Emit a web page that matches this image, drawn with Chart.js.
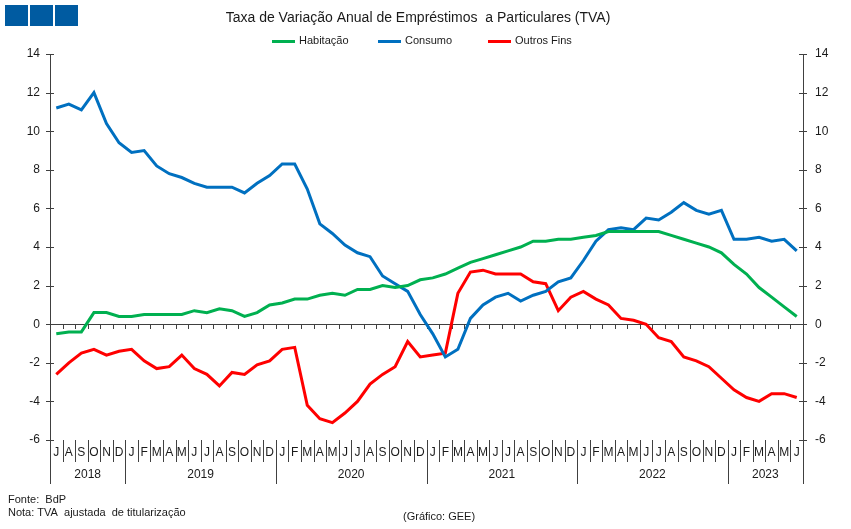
<!DOCTYPE html>
<html>
<head>
<meta charset="utf-8">
<script src="https://cdn.jsdelivr.net/npm/chart.js@4.4.0/dist/chart.umd.min.js"></script>
<style>
  html, body { margin: 0; padding: 0; background: #fff; }
</style>
</head>
<body>
<canvas id="canvas" width="851" height="529"></canvas>
<script>
// meses de Jul 2018 a Jun 2023
var meses = [
    "J","A","S","O","N","D",
    "J","F","M","A","M","J","J","A","S","O","N","D",
    "J","F","M","A","M","J","J","A","S","O","N","D",
    "J","F","M","A","M","J","J","A","S","O","N","D",
    "J","F","M","A","M","J","J","A","S","O","N","D",
    "J","F","M","A","M","J"
];
var anos = ["2018", "2019", "2020", "2021", "2022", "2023"];
var mesesPorAno = [6, 12, 12, 12, 12, 6];

var habitacao = [
    -0.5, -0.4, -0.4, 0.6, 0.6, 0.4,
    0.4, 0.5, 0.5, 0.5, 0.5, 0.7, 0.6, 0.8, 0.7, 0.4, 0.6, 1.0,
    1.1, 1.3, 1.3, 1.5, 1.6, 1.5, 1.8, 1.8, 2.0, 1.9, 2.0, 2.3,
    2.4, 2.6, 2.9, 3.2, 3.4, 3.6, 3.8, 4.0, 4.3, 4.3, 4.4, 4.4,
    4.5, 4.6, 4.8, 4.8, 4.8, 4.8, 4.8, 4.6, 4.4, 4.2, 4.0, 3.7,
    3.1, 2.6, 1.9, 1.4, 0.9, 0.4
];
var consumo = [
    11.2, 11.4, 11.1, 12.0, 10.4, 9.4,
    8.9, 9.0, 8.2, 7.8, 7.6, 7.3, 7.1, 7.1, 7.1, 6.8, 7.3, 7.7,
    8.3, 8.3, 7.0, 5.2, 4.7, 4.1, 3.7, 3.5, 2.5, 2.1, 1.7, 0.5,
    -0.5, -1.7, -1.3, 0.3, 1.0, 1.4, 1.6, 1.2, 1.5, 1.7, 2.2, 2.4,
    3.3, 4.3, 4.9, 5.0, 4.9, 5.5, 5.4, 5.8, 6.3, 5.9, 5.7, 5.9,
    4.4, 4.4, 4.5, 4.3, 4.4, 3.8
];
var outrosFins = [
    -2.6, -2.0, -1.5, -1.3, -1.6, -1.4,
    -1.3, -1.9, -2.3, -2.2, -1.6, -2.3, -2.6, -3.2, -2.5, -2.6, -2.1, -1.9,
    -1.3, -1.2, -4.2, -4.9, -5.1, -4.6, -4.0, -3.1, -2.6, -2.2, -0.9, -1.7,
    -1.6, -1.5, 1.6, 2.7, 2.8, 2.6, 2.6, 2.6, 2.2, 2.1, 0.7, 1.4,
    1.7, 1.3, 1.0, 0.3, 0.2, 0.0, -0.7, -0.9, -1.7, -1.9, -2.2, -2.8,
    -3.4, -3.8, -4.0, -3.6, -3.6, -3.8
];
var ticksY = [-6, -4, -2, 0, 2, 4, 6, 8, 10, 12, 14];

var cores = {
    verde: '#00b050',
    azul: '#0070c0',
    vermelho: '#ff0000',
    texto: '#1a1a1a',
    eixo: '#404040'
};
var fonte = '"Liberation Sans", Arial, sans-serif';

// desenha titulo, legenda, eixo das categorias, linha do zero e notas
var extras = {
    id: 'extras',
    beforeDatasetsDraw: function (chart) {
        var ctx = chart.ctx;
        var area = chart.chartArea;
        var x = chart.scales.x;
        var y0 = chart.scales.y.getPixelForValue(0);
        var passo = (area.right - area.left) / meses.length;
        ctx.save();
        ctx.strokeStyle = cores.eixo;
        ctx.lineWidth = 1;
        ctx.beginPath();
        ctx.moveTo(area.left, Math.round(y0) + 0.5);
        ctx.lineTo(area.right, Math.round(y0) + 0.5);
        for (var i = 1; i < meses.length; i++) {
            var xb = Math.round(x.getPixelForValue(i) - passo / 2) + 0.5;
            ctx.moveTo(xb, Math.round(y0));
            ctx.lineTo(xb, Math.round(y0) + 5);
        }
        ctx.stroke();
        ctx.restore();
    },
    afterDraw: function (chart) {
        var ctx = chart.ctx;
        var area = chart.chartArea;
        var x = chart.scales.x;
        var y = chart.scales.y;
        var passo = (area.right - area.left) / meses.length;
        ctx.save();

        // quadrados
        ctx.fillStyle = '#005ba1';
        [5, 30, 55].forEach(function (qx) { ctx.fillRect(qx, 5, 23, 21); });

        // titulo
        ctx.fillStyle = cores.texto;
        ctx.font = '14px ' + fonte;
        ctx.textAlign = 'center';
        ctx.textBaseline = 'middle';
        ctx.fillText('Taxa de Variação Anual de Empréstimos  a Particulares (TVA)', 418, 18);

        // legenda
        ctx.font = '11px ' + fonte;
        ctx.textAlign = 'left';
        var legenda = [
            { nome: 'Habitação', cor: cores.verde, x: 272 },
            { nome: 'Consumo', cor: cores.azul, x: 378 },
            { nome: 'Outros Fins', cor: cores.vermelho, x: 488 }
        ];
        legenda.forEach(function (l) {
            ctx.fillStyle = l.cor;
            ctx.fillRect(l.x, 40, 23, 3);
            ctx.fillStyle = cores.texto;
            ctx.fillText(l.nome, l.x + 27, 41);
        });

        // marcas dos eixos verticais (atravessam o eixo)
        ctx.strokeStyle = cores.eixo;
        ctx.lineWidth = 1;
        ctx.beginPath();
        ticksY.forEach(function (v) {
            var py = Math.round(y.getPixelForValue(v)) + 0.5;
            ctx.moveTo(area.left - 4, py);
            ctx.lineTo(area.left + 4, py);
            ctx.moveTo(area.right - 4, py);
            ctx.lineTo(area.right + 4, py);
        });
        ctx.stroke();

        // eixo das categorias
        var topo = area.bottom;
        ctx.beginPath();
        ctx.moveTo(Math.round(area.left) + 0.5, topo);
        ctx.lineTo(Math.round(area.left) + 0.5, topo + 44);
        ctx.moveTo(Math.round(area.right) + 0.5, topo);
        ctx.lineTo(Math.round(area.right) + 0.5, topo + 44);
        var inicio = 0;
        var fimAnos = [];
        mesesPorAno.forEach(function (n) { inicio += n; fimAnos.push(inicio); });
        for (var i = 1; i < meses.length; i++) {
            var xb = Math.round(x.getPixelForValue(i) - passo / 2) + 0.5;
            var comprido = fimAnos.indexOf(i) >= 0;
            ctx.moveTo(xb, topo);
            ctx.lineTo(xb, topo + (comprido ? 44 : 22));
        }
        ctx.stroke();

        ctx.fillStyle = cores.texto;
        ctx.font = '12px ' + fonte;
        ctx.textAlign = 'center';
        ctx.textBaseline = 'middle';
        meses.forEach(function (m, i) {
            ctx.fillText(m, x.getPixelForValue(i), topo + 13);
        });
        var k = 0;
        anos.forEach(function (a, j) {
            var x1 = x.getPixelForValue(k) - passo / 2;
            var x2 = x.getPixelForValue(k + mesesPorAno[j] - 1) + passo / 2;
            ctx.fillText(a, (x1 + x2) / 2, topo + 35);
            k += mesesPorAno[j];
        });

        // notas
        ctx.font = '11px ' + fonte;
        ctx.textAlign = 'left';
        ctx.fillText('Fonte:  BdP', 8, 500);
        ctx.fillText('Nota: TVA  ajustada  de titularização', 8, 513);
        ctx.fillText('(Gráfico: GEE)', 403, 517);
        ctx.restore();
    }
};

var eixoY = function (pos, largura, pad) {
    return {
        type: 'linear',
        position: pos,
        min: -6,
        max: 14,
        afterFit: function (s) { s.width = largura; },
        afterBuildTicks: function (s) {
            s.ticks = ticksY.map(function (v) { return { value: v }; });
        },
        border: { display: true, color: cores.eixo, width: 1 },
        grid: { display: false, drawOnChartArea: false },
        ticks: {
            color: cores.texto,
            padding: pad,
            font: { family: fonte, size: 12 }
        }
    };
};

var config = {
    type: 'line',
    data: {
        labels: meses,
        datasets: [{
            label: 'Habitação',
            data: habitacao,
            borderColor: cores.verde,
            backgroundColor: cores.verde
        }, {
            label: 'Consumo',
            data: consumo,
            borderColor: cores.azul,
            backgroundColor: cores.azul
        }, {
            label: 'Outros Fins',
            data: outrosFins,
            borderColor: cores.vermelho,
            backgroundColor: cores.vermelho
        }]
    },
    options: {
        responsive: false,
        animation: false,
        devicePixelRatio: 1,
        layout: { padding: { left: 0, right: 0, top: 54, bottom: 89 } },
        elements: {
            line: { borderWidth: 3, tension: 0 },
            point: { radius: 0 }
        },
        plugins: {
            legend: { display: false },
            title: { display: false },
            tooltip: { enabled: false }
        },
        scales: {
            x: { type: 'category', offset: true, display: false },
            y: eixoY('left', 50, 2),
            y2: eixoY('right', 48, 4)
        }
    },
    plugins: [extras]
};

window.grafico = new Chart(document.getElementById('canvas'), config);
</script>
</body>
</html>
